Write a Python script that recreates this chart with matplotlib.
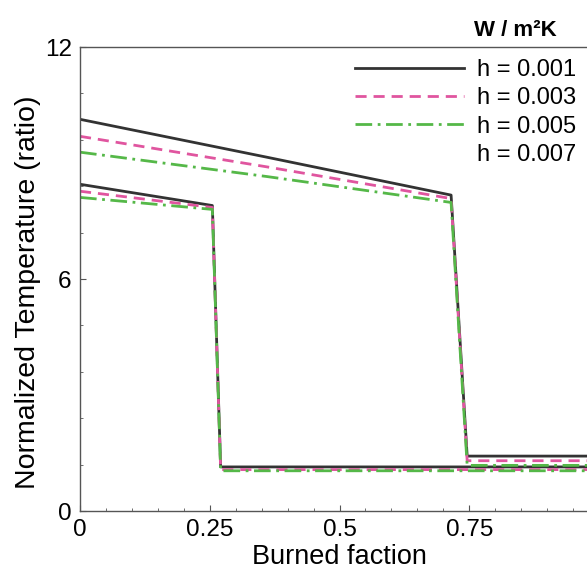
import matplotlib
matplotlib.use("Agg")
import matplotlib.pyplot as plt
from matplotlib.ticker import MultipleLocator
from matplotlib.lines import Line2D

plt.rcParams['font.family'] = ['Liberation Sans', 'DejaVu Sans']

# Burned fraction vs normalized temperature, two burn fronts per heat-transfer coefficient
x_front1 = [0.0, 0.255, 0.271, 1.0]
x_front2 = [0.0, 0.36, 0.715, 0.746, 1.0]

t1_h001 = [8.45, 7.90, 1.14, 1.14]
t1_h003 = [8.27, 7.85, 1.07, 1.07]
t1_h005 = [8.11, 7.80, 1.04, 1.04]

t2_h001 = [10.13, 9.15, 8.17, 1.42, 1.42]
t2_h003 = [9.69, 8.90, 8.08, 1.30, 1.30]
t2_h005 = [9.28, 8.65, 7.98, 1.18, 1.18]

labels = ["h = 0.001", "h = 0.003", "h = 0.005", "h = 0.007"]
colors = ["#333333", "#e0559f", "#55b848"]
styles = ["-", (0, (4, 2.5)), (0, (6, 2, 1, 2))]

W, H = 587, 575
fig = plt.figure(figsize=(W / 100, H / 100), dpi=100)
ax = fig.add_axes([80 / W, 1 - 511 / H, (599 - 80) / W, (511 - 47) / H])

for xs, series in ((x_front1, (t1_h001, t1_h003, t1_h005)),
                   (x_front2, (t2_h001, t2_h003, t2_h005))):
    for ys, c, ls in zip(series, colors, styles):
        ax.plot(xs, ys, color=c, linestyle=ls, linewidth=2.0)

ax.set_xlim(0, 1.0)
ax.set_ylim(0, 12)
ax.set_xticks([0, 0.25, 0.5, 0.75])
ax.set_xticklabels(["0", "0.25", "0.5", "0.75"])
ax.set_yticks([0, 6, 12])
ax.xaxis.set_minor_locator(MultipleLocator(0.05))
ax.yaxis.set_minor_locator(MultipleLocator(1.2))
ax.tick_params(which="both", direction="in", labelsize=17.5, color="#555555")
ax.tick_params(which="major", length=4, width=0.8)
ax.tick_params(which="minor", length=2.5, width=0.6)
ax.tick_params(axis="x", pad=6)
ax.tick_params(axis="y", pad=6)
for s in ("left", "bottom", "top"):
    ax.spines[s].set_color("#555555")
    ax.spines[s].set_linewidth(1.0)
ax.spines["right"].set_visible(False)

ax.set_xlabel("Burned faction", fontsize=19.5, labelpad=2)
ax.set_ylabel("Normalized Temperature (ratio)", fontsize=20.5, labelpad=0)
ax.yaxis.set_label_coords(-0.076, 0.472)

handles = [Line2D([], [], color=c, linestyle=ls, linewidth=2.0)
           for c, ls in zip(colors, styles)]
handles.append(Line2D([], [], color="none"))
ax.legend(handles, labels, loc="upper left", bbox_to_anchor=(266 / 519, 0.995),
          frameon=False, fontsize=17, handlelength=4.6, handletextpad=0.55,
          labelspacing=0.27, borderaxespad=0)

fig.text(515 / W, 1 - 31 / H, "W / m²K", fontsize=16, fontweight="bold",
         ha="center", va="center")

fig.savefig("out.png", dpi=100)
